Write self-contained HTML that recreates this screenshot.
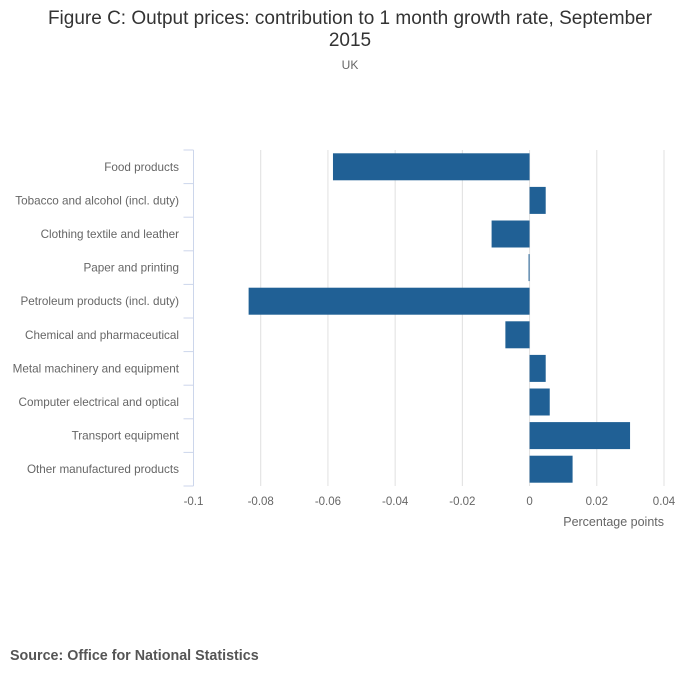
<!DOCTYPE html>
<html><head><meta charset="utf-8"><style>
body{margin:0;background:#fff;font-family:"Liberation Sans",sans-serif;}
</style></head><body>
<svg width="700" height="682" xmlns="http://www.w3.org/2000/svg" id="svg">
<text x="350" y="24" text-anchor="middle" font-size="19" fill="#333">Figure C: Output prices: contribution to 1 month growth rate, September</text>
<text x="350" y="46" text-anchor="middle" font-size="19" fill="#333">2015</text>
<text x="350" y="69" text-anchor="middle" font-size="12" fill="#666">UK</text>
<g id="grid"></g><g id="bars"></g><g id="axes"></g>
<text x="664" y="526" text-anchor="end" font-size="12.5" fill="#666">Percentage points</text>
<text x="10" y="660" font-size="14.3" font-weight="bold" fill="#555">Source: Office for National Statistics</text>
</svg>
<script>
const categories=["Food products","Tobacco and alcohol (incl. duty)","Clothing textile and leather","Paper and printing","Petroleum products (incl. duty)","Chemical and pharmaceutical","Metal machinery and equipment","Computer electrical and optical","Transport equipment","Other manufactured products"];
const values=[-0.0585,0.0048,-0.0113,-0.0003,-0.0836,-0.0072,0.0048,0.006,0.0299,0.0128];
const xTicks=[-0.1,-0.08,-0.06,-0.04,-0.02,0,0.02,0.04];
const xTickLabels=["-0.1","-0.08","-0.06","-0.04","-0.02","0","0.02","0.04"];
const NS="http://www.w3.org/2000/svg";
const x0=193.5,x1=664,d0=-0.1,d1=0.04,plotTop=150,plotBot=486;
const xs=v=>x0+(v-d0)/(d1-d0)*(x1-x0);
const band=(plotBot-plotTop)/categories.length;
function mk(t,a,p){const e=document.createElementNS(NS,t);for(const k in a)e.setAttribute(k,a[k]);document.getElementById(p).appendChild(e);return e;}
xTicks.forEach((v,i)=>{
 if(i>0){const g=mk('line',{x1:xs(v),x2:xs(v),y1:plotTop,y2:plotBot,stroke:'#e0e0e0','stroke-width':1},'grid');
 
 }
 const t=mk('text',{x:xs(v),y:plotBot+19,'text-anchor':'middle','font-size':11.5,fill:'#666'},'axes');
 t.textContent=xTickLabels[i];
 
 
});
const ax=mk('line',{x1:x0,x2:x0,y1:plotTop,y2:plotBot,stroke:'#ccd6eb','stroke-width':1},'axes');


for(let i=0;i<=categories.length;i++){
 const y=plotTop+i*band;
 const tk=mk('line',{x1:x0-10,x2:x0,y1:y,y2:y,stroke:'#ccd6eb','stroke-width':1},'axes');
 
 
}
categories.forEach((c,i)=>{
 const yc=plotTop+(i+0.5)*band;
 const t=mk('text',{x:179,y:yc+4,'text-anchor':'end','font-size':11.7,fill:'#666'},'axes');
 t.textContent=c;
 
 
 const v=values[i],a=xs(0),b=xs(v);
 const w=Math.max(Math.abs(b-a),1);
 const r=mk('rect',{x:Math.min(a,b),y:yc-13.5,width:w,height:27,fill:'#206095'},'bars');
 
 
});
</script>
</body></html>
